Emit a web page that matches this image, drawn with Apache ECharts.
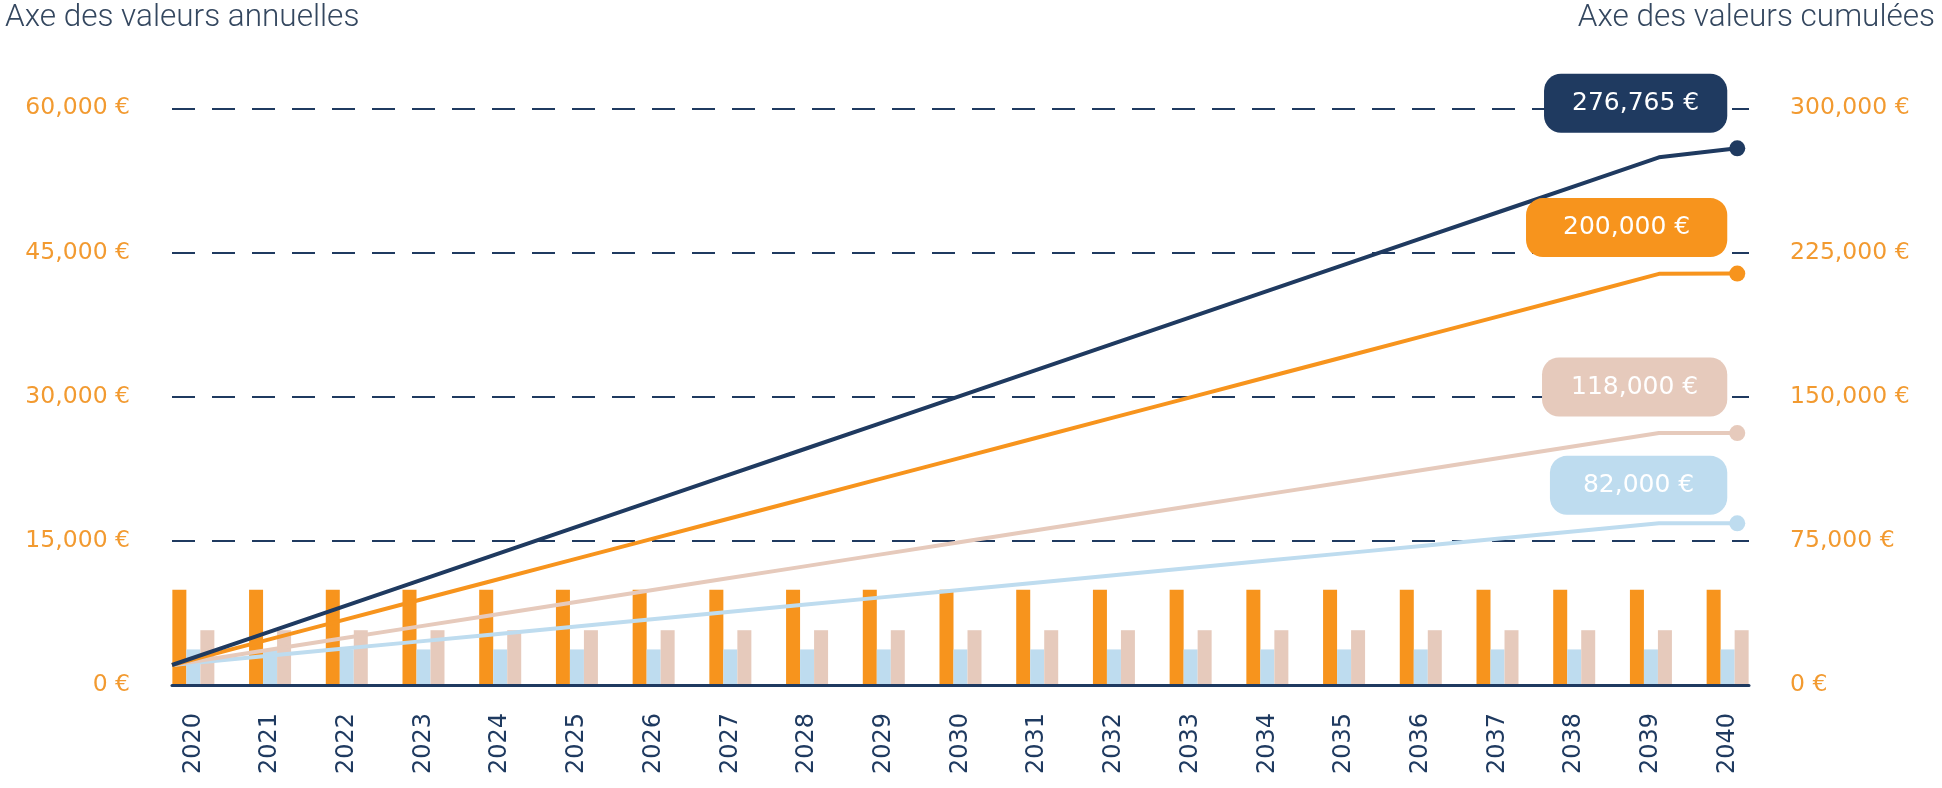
<!DOCTYPE html>
<html>
<head>
<meta charset="utf-8">
<script src="https://cdn.jsdelivr.net/npm/echarts@6/dist/echarts.min.js"></script>
<style>
html,body{margin:0;padding:0;background:#fff;}
#c{width:1942px;height:788px;}
</style>
</head>
<body>
<div id="c"></div>
<script>
const years = ['2020','2021','2022','2023','2024','2025','2026','2027','2028','2029','2030','2031','2032','2033','2034','2035','2036','2037','2038','2039','2040'];

// Annual values (left axis)
const annualOrange = [9900,9900,9900,9900,9900,9900,9900,9900,9900,9900,9900,9900,9900,9900,9900,9900,9900,9900,9900,9900,9900];
const annualBlue   = [3700,3700,3700,3700,3700,3700,3700,3700,3700,3700,3700,3700,3700,3700,3700,3700,3700,3700,3700,3700,3700];
const annualBeige  = [5700,5700,5700,5700,5700,5700,5700,5700,5700,5700,5700,5700,5700,5700,5700,5700,5700,5700,5700,5700,5700];

// Cumulative values (right axis)
const cumulNavy   = [10400,24300,38200,52100,66000,79900,93800,107700,121600,135500,149400,163300,177200,191100,205000,218900,232800,246700,260600,274500,279200];
const cumulOrange = [10400,21100,31800,42500,53200,63900,74600,85300,96000,106700,117400,128100,138800,149500,160200,170900,181600,192300,203000,213900,214000];
const cumulBeige  = [10400,16750,23100,29450,35800,42150,48500,54850,61200,67550,73900,80250,86600,92950,99300,105650,112000,118350,124700,131050,131050];
const cumulBlue   = [10400,14280,18160,22040,25920,29800,33680,37560,41440,45320,49200,53080,56960,60840,64720,68600,72480,76360,80240,84120,84100];

// End labels
const endLabels = ['276,765 €','200,000 €','118,000 €','82,000 €'];

// Axis ticks
const leftTicks = {min:0, max:60000, interval:15000};
const rightTicks = {min:0, max:300000, interval:75000};

const NAVY = '#1F3A60', ORANGE = '#F7941D', BEIGE = '#E6CABC', BLUE = '#BEDCEF', LBL = '#F29A30';
const FONT = 'DejaVu Sans';

function eur(v){ return Number(v).toLocaleString('en-US') + ' €'; }

function lineSeries(vals, color, labelText, pad, offY){
  const last = vals.length - 1;
  return {
    type:'line', xAxisIndex:1, yAxisIndex:1, z:4,
    symbol:'circle', showAllSymbol:true,
    symbolSize:(v, p) => p.dataIndex === last ? 16 : 0,
    lineStyle:{color:color, width:4},
    itemStyle:{color:color},
    emphasis:{disabled:true},
    data: vals.map((v,i) => i === last ? {
      value:[i,v],
      label:{
        show:true, position:'left', distance:2, offset:[0,offY],
        formatter: labelText,
        backgroundColor:color, color:'#fff', borderRadius:17,
        padding:pad, fontSize:25, fontFamily:FONT, lineHeight:25
      }
    } : [i,v])
  };
}

const chart = echarts.init(document.getElementById('c'), null, {renderer:'canvas'});
chart.setOption({
  animation:false,
  backgroundColor:'#fff',
  title:[
    {text:'Axe des valeurs annuelles', left:0, top:-3, textStyle:{fontFamily:'Roboto', fontWeight:300, fontSize:31.5, color:'#34475F'}},
    {text:'Axe des valeurs cumulées', right:2, top:-3, textStyle:{fontFamily:'Roboto', fontWeight:300, fontSize:31.5, color:'#34475F'}}
  ],
  grid:[
    {left:155, top:108.3, width:1611, height:576.7, containLabel:false},
    {left:172, top:108.3, width:1577, height:576.7, containLabel:false}
  ],
  xAxis:[
    {type:'category', gridIndex:0, data:years, boundaryGap:true,
     axisLine:{show:false}, axisTick:{show:false}, splitLine:{show:false},
     axisLabel:{rotate:90, margin:28, fontSize:24, fontFamily:FONT, color:NAVY, interval:0}},
    {type:'value', gridIndex:1, min:0, max:20.15, z:10,
     axisLine:{show:true, onZero:false, lineStyle:{color:NAVY, width:3}},
     axisTick:{show:false}, axisLabel:{show:false}, splitLine:{show:false}}
  ],
  yAxis:[
    {type:'value', gridIndex:0, position:'left', min:leftTicks.min, max:leftTicks.max, interval:leftTicks.interval,
     axisLine:{show:false}, axisTick:{show:false}, splitLine:{show:false},
     axisLabel:{margin:25, fontSize:23.5, fontFamily:FONT, color:LBL, formatter:eur}},
    {type:'value', gridIndex:1, position:'right', min:rightTicks.min, max:rightTicks.max, interval:rightTicks.interval,
     axisLine:{show:false}, axisTick:{show:false},
     splitLine:{show:true, lineStyle:{color:NAVY, width:2, type:[23,17]}},
     axisLabel:{margin:41, fontSize:23.5, fontFamily:FONT, color:LBL, formatter:eur}}
  ],
  series:[
    {type:'bar', xAxisIndex:0, yAxisIndex:0, data:annualOrange, barWidth:14, barGap:'0%', itemStyle:{color:ORANGE}, emphasis:{disabled:true}},
    {type:'bar', xAxisIndex:0, yAxisIndex:0, data:annualBlue, barWidth:14, barGap:'0%', itemStyle:{color:BLUE}, emphasis:{disabled:true}},
    {type:'bar', xAxisIndex:0, yAxisIndex:0, data:annualBeige, barWidth:14, barGap:'0%', itemStyle:{color:BEIGE}, emphasis:{disabled:true}},
    lineSeries(cumulBlue, BLUE, endLabels[3], [17,33], -38),
    lineSeries(cumulBeige, BEIGE, endLabels[2], [17,29], -46),
    lineSeries(cumulOrange, ORANGE, endLabels[1], [17,37], -46),
    lineSeries(cumulNavy, NAVY, endLabels[0], [17,28], -45)
  ]
});
</script>
</body>
</html>
